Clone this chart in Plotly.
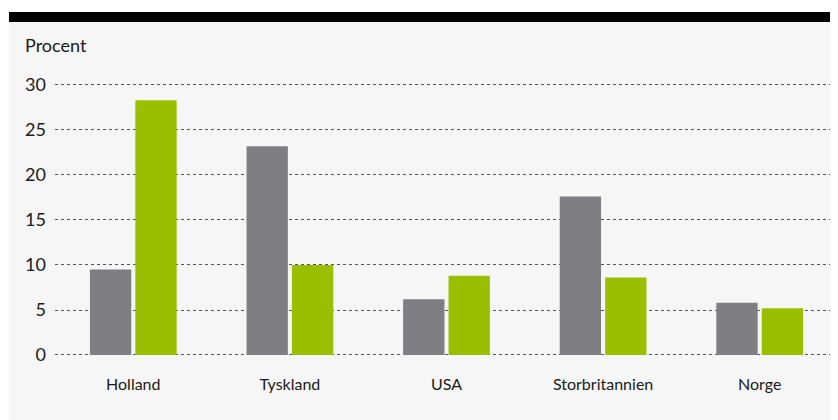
import plotly.graph_objects as go

categories = ["Holland", "Tyskland", "USA", "Storbritannien", "Norge"]
series_gray = [9.5, 23.2, 6.2, 17.6, 5.8]
series_green = [28.3, 10.0, 8.8, 8.6, 5.2]
y_ticks = [0, 5, 10, 15, 20, 25, 30]

FONT = "Lato"
fig = go.Figure()
fig.add_trace(go.Bar(x=categories, y=series_gray, marker_color="#7f7e83",
                     marker_line_width=0, showlegend=False))
fig.add_trace(go.Bar(x=categories, y=series_green, marker_color="#99bf00",
                     marker_line_width=0, showlegend=False))

OFF = 8  # page body margin
W, H = 838 - OFF, 420 - OFF
ml, mr, mt, mb = 47, 0, 75, 65
pw, ph = W - ml - mr, H - mt - mb

def px(x):
    return (x - OFF - ml) / pw

def py(y):
    return (H - mb - (y - OFF)) / ph

fig.update_layout(
    width=W, height=H,
    margin=dict(l=ml, r=mr, t=mt, b=mb),
    paper_bgcolor="white",
    plot_bgcolor="rgba(0,0,0,0)",
    barmode="group",
    bargap=0.42,
    bargroupgap=0.09,
    font=dict(family=FONT, size=17, color="#1a1a1a"),
    shapes=[
        dict(type="rect", xref="paper", yref="paper", x0=px(9), x1=px(840),
             y0=py(422), y1=py(22), fillcolor="#f6f6f6", line_width=0, layer="below"),
        dict(type="rect", xref="paper", yref="paper", x0=px(9), x1=px(840),
             y0=py(22), y1=py(12), fillcolor="#000000", line_width=0, layer="below"),
        dict(type="line", xref="paper", yref="y", x0=0, x1=1.0, y0=0, y1=0,
             line=dict(color="#222222", width=1.5, dash="dot"), layer="below"),
    ],
    annotations=[
        dict(text="Procent", xref="paper", yref="paper", x=px(23), y=py(45),
             xanchor="left", yanchor="middle", showarrow=False,
             font=dict(family=FONT, size=18, color="#1a1a1a")),
    ],
)
fig.update_yaxes(range=[0, 30.22], tickvals=y_ticks, showgrid=True,
                 gridcolor="#555555", griddash="dot", gridwidth=1,
                 zeroline=False, showline=False, ticklabelstandoff=8,
                 tickfont=dict(family=FONT, size=18, color="#1a1a1a"))
fig.update_xaxes(showgrid=False, showline=False, zeroline=False,
                 ticklabelstandoff=18,
                 tickfont=dict(family=FONT, size=16, color="#1a1a1a"))

fig.write_html("out.html")
